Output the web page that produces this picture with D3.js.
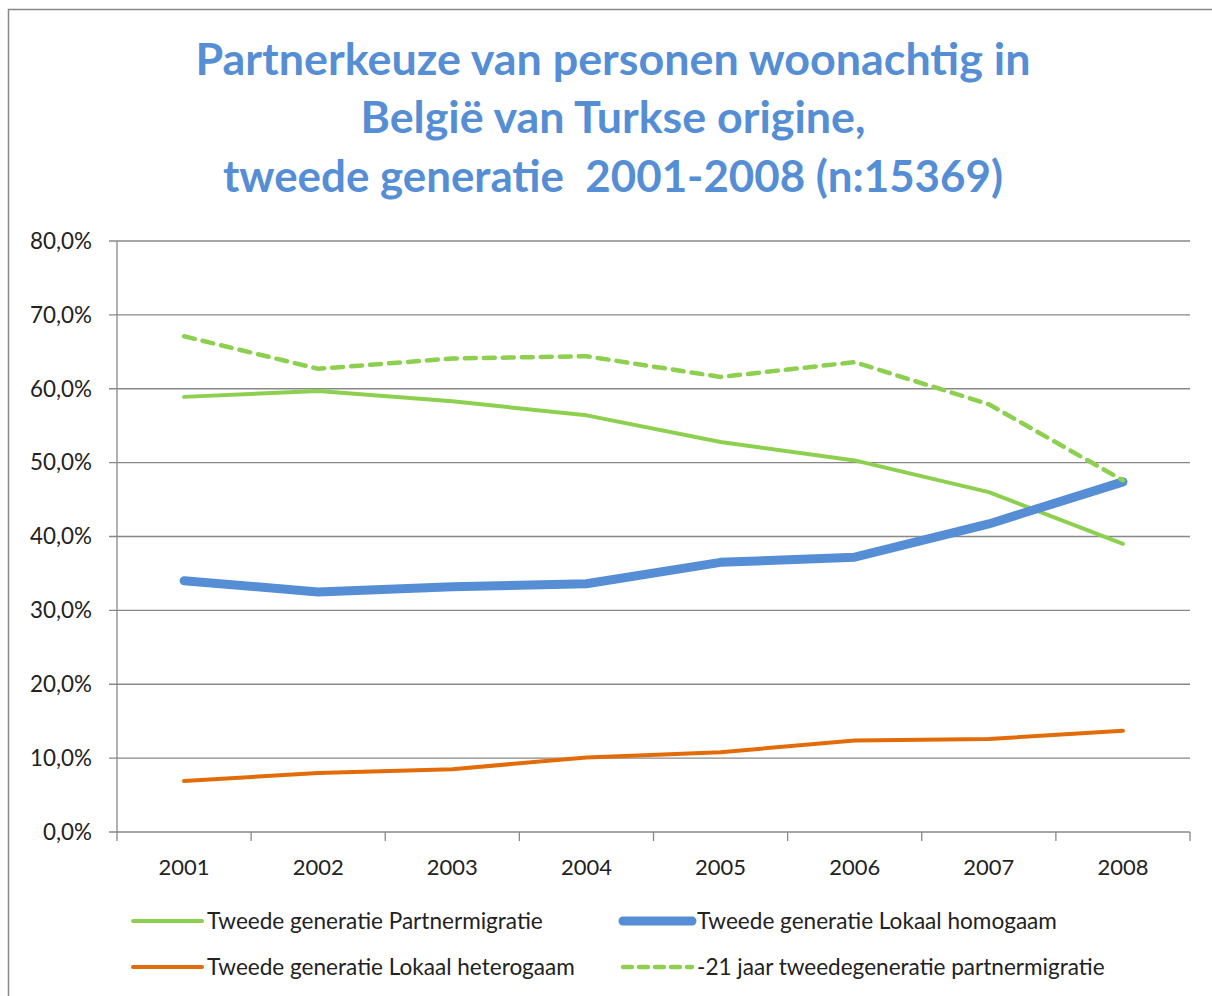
<!DOCTYPE html>
<html><head><meta charset="utf-8">
<script src="https://cdn.jsdelivr.net/npm/d3@7"></script>
<style>body{margin:0;background:#fff}svg{display:block}</style>
</head><body>
<script>
const years = ["2001","2002","2003","2004","2005","2006","2007","2008"];
const partnermigratie = [58.9, 59.7, 58.3, 56.4, 52.8, 50.3, 46.0, 39.0];
const lokaalHomogaam = [34.0, 32.5, 33.2, 33.6, 36.5, 37.2, 41.7, 47.4];
const lokaalHeterogaam = [6.9, 8.0, 8.5, 10.1, 10.8, 12.4, 12.6, 13.7];
const min21Partnermigratie = [67.1, 62.7, 64.1, 64.4, 61.6, 63.6, 57.9, 47.6];
const yTicks = [0,10,20,30,40,50,60,70,80];
const titleLines = ["Partnerkeuze van personen woonachtig in","België van Turkse origine,","tweede generatie  2001-2008 (n:15369)"];

const W=1212,H=996;
const svg=d3.select("body").append("svg").attr("width",W).attr("height",H);
const font="Lato, 'Open Sans', sans-serif";
svg.append("rect").attr("x",8.5).attr("y",9.5).attr("width",1220).attr("height",1000)
  .attr("fill","#fff").attr("stroke","#888").attr("stroke-width",1.5);

function fit(el,base,target){
  const w=el.node().getComputedTextLength();
  el.attr("font-size",base*target/w);
}

// title
const titleTargets=[[613,63,835],[613,122,505],[613,181,780]];
titleLines.forEach((t,i)=>{
  const el=svg.append("text").attr("x",titleTargets[i][0]).attr("y",titleTargets[i][1])
   .attr("text-anchor","middle").attr("dominant-baseline","middle")
   .attr("font-family",font).attr("font-weight","bold").attr("font-size",40)
   .attr("fill","#558ED5").style("white-space","pre").text(t);
  fit(el,40,titleTargets[i][2]);
});

const x=d3.scaleBand().domain(years).range([117,1190]);
const y=d3.scaleLinear().domain([0,80]).range([832,241]);

// gridlines
svg.append("g").selectAll("line").data(yTicks).join("line")
  .attr("x1",109).attr("x2",1190).attr("y1",d=>y(d)).attr("y2",d=>y(d))
  .attr("stroke","#888").attr("stroke-width",1.3);
// y axis
svg.append("line").attr("x1",117).attr("x2",117).attr("y1",241).attr("y2",832).attr("stroke","#888").attr("stroke-width",1.3);
// measure y label font
const probe=svg.append("text").attr("font-family",font).attr("font-size",20).text("80,0%");
const yFs=20*62/probe.node().getComputedTextLength();
probe.text("2001");
const xFs=20*51/probe.node().getComputedTextLength();
probe.remove();
svg.append("g").selectAll("text").data(yTicks).join("text")
  .attr("x",92).attr("y",d=>y(d)).attr("dy","0.35em").attr("text-anchor","end")
  .attr("font-family",font).attr("font-size",yFs).attr("fill","#222")
  .text(d=>d.toFixed(1).replace(".",",")+"%");
// x ticks
const bounds=years.map(d=>x(d)).concat([1190]);
svg.append("g").selectAll("line").data(bounds).join("line")
  .attr("x1",d=>d).attr("x2",d=>d).attr("y1",832).attr("y2",841).attr("stroke","#888").attr("stroke-width",1.3);
svg.append("g").selectAll("text").data(years).join("text")
  .attr("x",d=>x(d)+x.bandwidth()/2).attr("y",867).attr("dy","0.35em").attr("text-anchor","middle")
  .attr("font-family",font).attr("font-size",xFs).attr("fill","#222").text(d=>d);

const series=[
 {name:"Tweede generatie Partnermigratie",vals:partnermigratie,color:"#8DD04F",w:4,dash:null},
 {name:"Tweede generatie Lokaal homogaam",vals:lokaalHomogaam,color:"#558ED5",w:9,dash:null},
 {name:"Tweede generatie Lokaal heterogaam",vals:lokaalHeterogaam,color:"#E36C0A",w:4,dash:null},
 {name:"-21 jaar tweedegeneratie partnermigratie",vals:min21Partnermigratie,color:"#8DD04F",w:4.5,dash:"11,8"}
];
const line=d3.line().x((d,i)=>x(years[i])+x.bandwidth()/2).y(d=>y(d));
const drawOrder=[2,0,1,3];
drawOrder.forEach(k=>{
  const s=series[k];
  svg.append("path").attr("d",line(s.vals)).attr("fill","none").attr("stroke",s.color)
   .attr("stroke-width",s.w).attr("stroke-linejoin","round").attr("stroke-linecap","round")
   .attr("stroke-dasharray",s.dash);
});

// legend
const legPos=[[130,921,336],[620,921,360],[130,967,368],[620,967,408]];
series.forEach((s,i)=>{
  const [lx,ly,tw]=legPos[i];
  const g=svg.append("g");
  g.append("line").attr("x1",lx+3).attr("x2",lx+72).attr("y1",ly).attr("y2",ly)
   .attr("stroke",s.color).attr("stroke-width",s.w).attr("stroke-linecap","round").attr("stroke-dasharray",s.dash? "9,7":null);
  const t=g.append("text").attr("x",lx+77).attr("y",ly).attr("dy","0.35em")
   .attr("font-family",font).attr("font-size",19).attr("fill","#222").text(s.name);
  fit(t,19,tw);
});
</script>
</body></html>
